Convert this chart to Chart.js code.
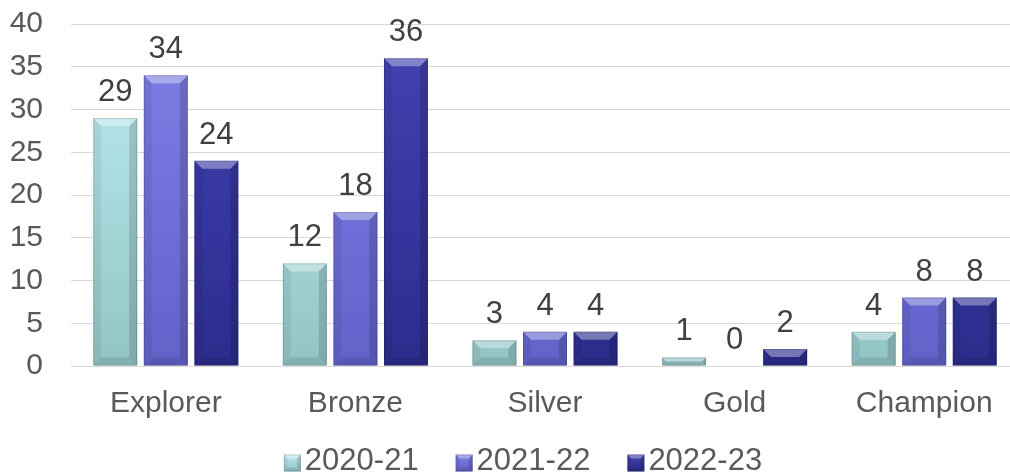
<!DOCTYPE html>
<html>
<head>
<meta charset="utf-8">
<script src="https://cdn.jsdelivr.net/npm/chart.js@4"></script>
<style>
  html, body { margin: 0; padding: 0; background: #fff; overflow: hidden; }
  #wrap { width: 1030px; height: 474px; }
</style>
</head>
<body>
<div id="wrap"><canvas id="awardsChart" width="1030" height="474"></canvas></div>
<script>
const categories = ['Explorer', 'Bronze', 'Silver', 'Gold', 'Champion'];
const seriesNames = ['2020-21', '2021-22', '2022-23'];
const values2020 = [29, 12, 3, 1, 4];
const values2021 = [34, 18, 4, 0, 8];
const values2022 = [24, 36, 4, 2, 8];
const yTicks = [0, 5, 10, 15, 20, 25, 30, 35, 40];

const FONT = '"Liberation Sans", Arial, sans-serif';

// top / middle / bottom colour of each series
const palette = [
  ['#c0ecef', '#a8dadd', '#93c4c5'],
  ['#8080e4', '#7171db', '#6262c9'],
  ['#4444b0', '#3737a2', '#2c2c8c'],
];

function gradFill(i) {
  return function (c) {
    const area = c.chart.chartArea;
    if (!area) return palette[i][1];
    const g = c.chart.ctx.createLinearGradient(0, area.top, 0, area.bottom);
    g.addColorStop(0, palette[i][0]);
    g.addColorStop(0.5, palette[i][1]);
    g.addColorStop(1, palette[i][2]);
    return g;
  };
}

function drawBevel(ctx, l, t, r, b, size) {
  const h = b - t;
  const s = Math.min(size, h / 2, (r - l) / 2);
  ctx.save();
  ctx.fillStyle = 'rgba(255,255,255,0.35)';
  ctx.beginPath();
  ctx.moveTo(l, t); ctx.lineTo(r, t); ctx.lineTo(r - s, t + s); ctx.lineTo(l + s, t + s);
  ctx.closePath(); ctx.fill();
  ctx.fillStyle = 'rgba(0,0,0,0.14)';
  ctx.beginPath();
  ctx.moveTo(r, t); ctx.lineTo(r, b); ctx.lineTo(r - s, b - s); ctx.lineTo(r - s, t + s);
  ctx.closePath(); ctx.fill();
  ctx.fillStyle = 'rgba(0,0,0,0.06)';
  ctx.beginPath();
  ctx.moveTo(l, t); ctx.lineTo(l, b); ctx.lineTo(l + s, b - s); ctx.lineTo(l + s, t + s);
  ctx.closePath(); ctx.fill();
  ctx.fillStyle = 'rgba(0,0,0,0.10)';
  ctx.beginPath();
  ctx.moveTo(l, b); ctx.lineTo(r, b); ctx.lineTo(r - s, b - s); ctx.lineTo(l + s, b - s);
  ctx.closePath(); ctx.fill();
  ctx.strokeStyle = 'rgba(0,0,0,0.15)';
  ctx.lineWidth = 1;
  ctx.strokeRect(l + 0.5, t + 0.5, r - l - 1, h - 1);
  ctx.restore();
}

// bevel look on every bar, from the bar elements Chart.js laid out
const bevel = {
  id: 'bevel',
  afterDatasetsDraw(chart) {
    chart.data.datasets.forEach((ds, di) => {
      chart.getDatasetMeta(di).data.forEach(bar => {
        if (bar.base - bar.y < 1) return;
        drawBevel(chart.ctx, bar.x - bar.width / 2, bar.y, bar.x + bar.width / 2, bar.base, 8);
      });
    });
  }
};

// value labels above bars
const valueLabels = {
  id: 'valueLabels',
  afterDatasetsDraw(chart) {
    const ctx = chart.ctx;
    ctx.save();
    ctx.font = '31px ' + FONT;
    ctx.fillStyle = '#404040';
    ctx.textAlign = 'center';
    ctx.textBaseline = 'alphabetic';
    chart.data.datasets.forEach((ds, di) => {
      chart.getDatasetMeta(di).data.forEach((bar, i) => {
        ctx.fillText(String(ds.data[i]), bar.x, bar.y - 17);
      });
    });
    ctx.restore();
  }
};

// legend drawn under the axis, box right next to its text
const bottomLegend = {
  id: 'bottomLegend',
  afterDraw(chart) {
    const ctx = chart.ctx;
    const box = 17, gapText = 4, gapItem = 37, centerX = 523, midY = 461;
    ctx.save();
    ctx.font = '31px ' + FONT;
    const widths = seriesNames.map(n => ctx.measureText(n).width);
    const total = widths.reduce((a, w) => a + box + gapText + w, 0) + gapItem * (seriesNames.length - 1);
    let x = centerX - total / 2;
    seriesNames.forEach((name, i) => {
      const t = midY - box / 2 + 2;
      const g = ctx.createLinearGradient(0, t, 0, t + box);
      g.addColorStop(0, palette[i][0]);
      g.addColorStop(1, palette[i][2]);
      ctx.fillStyle = g;
      ctx.fillRect(x, t, box, box);
      drawBevel(ctx, x, t, x + box, t + box, 4);
      x += box + gapText;
      ctx.fillStyle = '#595959';
      ctx.textAlign = 'left';
      ctx.textBaseline = 'middle';
      ctx.fillText(name, x, midY);
      x += widths[i] + gapItem;
    });
    ctx.restore();
  }
};

const allSeries = [values2020, values2021, values2022];

new Chart(document.getElementById('awardsChart'), {
  type: 'bar',
  data: {
    labels: categories,
    datasets: allSeries.map((vals, i) => ({
      label: seriesNames[i],
      data: vals,
      backgroundColor: gradFill(i),
      borderWidth: 0,
      categoryPercentage: 0.8,
      barPercentage: 0.87,
    })),
  },
  options: {
    responsive: false,
    animation: false,
    layout: { padding: { top: 24, right: 11, left: 0, bottom: 48 } },
    plugins: {
      tooltip: { enabled: false },
      legend: { display: false },
    },
    scales: {
      x: {
        grid: { display: false, drawTicks: false },
        border: { color: '#d9d9d9', width: 1 },
        ticks: {
          color: '#595959',
          font: { family: FONT, size: 30 },
          padding: 20,
        },
        afterFit(scale) {
          scale.height = 60;
          scale.paddingLeft = 0;
          scale.paddingRight = 0;
        },
      },
      y: {
        min: 0,
        max: 40,
        afterBuildTicks(scale) { scale.ticks = yTicks.map(v => ({ value: v })); },
        grid: { color: '#d9d9d9', drawTicks: false },
        border: { display: false },
        ticks: {
          color: '#595959',
          font: { family: FONT, size: 30 },
          padding: 28,
        },
        afterFit(scale) {
          scale.width = 71;
          scale.paddingTop = 0;
          scale.paddingBottom = 0;
        },
      },
    },
  },
  plugins: [bevel, valueLabels, bottomLegend],
});
</script>
</body>
</html>
